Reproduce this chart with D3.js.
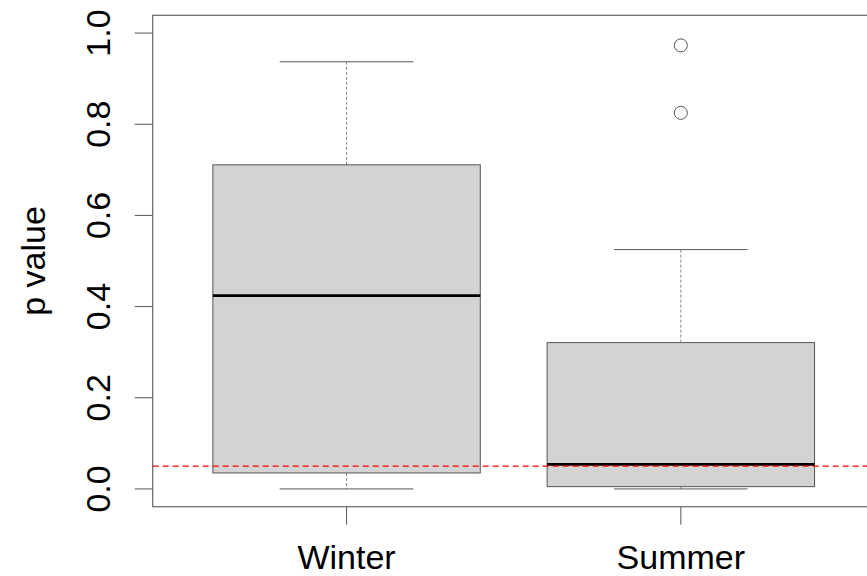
<!DOCTYPE html>
<html>
<head>
<meta charset="utf-8">
<script src="https://cdn.jsdelivr.net/npm/d3@7"></script>
<style>
  body { margin: 0; background: #fff; }
  svg { display: block; }
  text { font-family: "Liberation Sans", Arial, sans-serif; fill: #000; }
</style>
</head>
<body>
<div id="chart"></div>
<script>
// seasons and their box statistics
const seasons = ["Winter", "Summer"];
const whiskerLow = [0.0, 0.0];
const q1 = [0.035, 0.005];
const median = [0.424, 0.054];
const q3 = [0.711, 0.321];
const whiskerHigh = [0.937, 0.525];
const outliers = [[], [0.973, 0.825]];
const yTicks = [0.0, 0.2, 0.4, 0.6, 0.8, 1.0];
const cutoff = 0.05;

const width = 867, height = 576;
const plot = {left: 152.7, right: 874.7, top: 15.3, bottom: 506.7};

const svg = d3.select("#chart").append("svg")
  .attr("width", width).attr("height", height);

// R style scales, 4% padding on each side
const x = d3.scaleLinear().domain([0.42, 2.58]).range([plot.left, plot.right]);
const y = d3.scaleLinear().domain([-0.039, 1.039]).range([plot.bottom, plot.top]);

const boxes = seasons.map((s, i) => ({
  name: s, pos: i + 1,
  lo: whiskerLow[i], q1: q1[i], med: median[i], q3: q3[i], hi: whiskerHigh[i],
  out: outliers[i]
}));

const g = svg.append("g");
const bw = 0.4, cw = 0.2;

// whiskers (dashed)
g.selectAll(".whisk").data(boxes).join("g").each(function(d){
  const sel = d3.select(this);
  sel.append("line")
    .attr("x1", x(d.pos)).attr("x2", x(d.pos))
    .attr("y1", y(d.q3)).attr("y2", y(d.hi))
    .attr("stroke", "#888").attr("stroke-width", 1).attr("stroke-dasharray", "3,2");
  sel.append("line")
    .attr("x1", x(d.pos)).attr("x2", x(d.pos))
    .attr("y1", y(d.q1)).attr("y2", y(d.lo))
    .attr("stroke", "#888").attr("stroke-width", 1).attr("stroke-dasharray", "3,2");
  [d.hi, d.lo].forEach(v => {
    sel.append("line")
      .attr("x1", x(d.pos - cw)).attr("x2", x(d.pos + cw))
      .attr("y1", y(v)).attr("y2", y(v))
      .attr("stroke", "#555").attr("stroke-width", 1);
  });
});

// boxes
g.selectAll(".box").data(boxes).join("rect")
  .attr("x", d => x(d.pos - bw)).attr("width", d => x(d.pos + bw) - x(d.pos - bw))
  .attr("y", d => y(d.q3)).attr("height", d => y(d.q1) - y(d.q3))
  .attr("fill", "#d3d3d3").attr("stroke", "#555").attr("stroke-width", 1);

// medians
g.selectAll(".med").data(boxes).join("line")
  .attr("x1", d => x(d.pos - bw)).attr("x2", d => x(d.pos + bw))
  .attr("y1", d => y(d.med)).attr("y2", d => y(d.med))
  .attr("stroke", "#000").attr("stroke-width", 2.8);

// outliers
g.selectAll(".out").data(boxes.flatMap(d => d.out.map(v => ({pos: d.pos, v}))))
  .join("circle")
  .attr("cx", d => x(d.pos)).attr("cy", d => y(d.v)).attr("r", 6.5)
  .attr("fill", "none").attr("stroke", "#555").attr("stroke-width", 1);

// frame
svg.append("rect")
  .attr("x", plot.left).attr("y", plot.top)
  .attr("width", plot.right - plot.left).attr("height", plot.bottom - plot.top)
  .attr("fill", "none").attr("stroke", "#666").attr("stroke-width", 1.2);

// red cutoff line
svg.append("line")
  .attr("x1", plot.left).attr("x2", width)
  .attr("y1", y(cutoff)).attr("y2", y(cutoff))
  .attr("stroke", "#ff0000").attr("stroke-width", 1.2).attr("stroke-dasharray", "6,4");

// y axis
const yAxis = svg.append("g");
yAxis.selectAll("line").data(yTicks).join("line")
  .attr("x1", plot.left - 18).attr("x2", plot.left)
  .attr("y1", d => y(d)).attr("y2", d => y(d))
  .attr("stroke", "#555").attr("stroke-width", 1);
yAxis.selectAll("text").data(yTicks).join("text")
  .attr("transform", d => `translate(110,${y(d)}) rotate(-90)`)
  .attr("text-anchor", "middle")
  .style("font-size", "34px")
  .text(d => d3.format(".1f")(d));

// x axis
const xAxis = svg.append("g");
xAxis.selectAll("line").data(boxes).join("line")
  .attr("x1", d => x(d.pos)).attr("x2", d => x(d.pos))
  .attr("y1", plot.bottom).attr("y2", plot.bottom + 18)
  .attr("stroke", "#555").attr("stroke-width", 1);
xAxis.selectAll("text").data(boxes).join("text")
  .attr("x", d => x(d.pos)).attr("y", 569)
  .attr("text-anchor", "middle")
  .style("font-size", "34px")
  .text(d => d.name);

// y label
svg.append("text")
  .attr("transform", `translate(45,${(plot.top + plot.bottom) / 2}) rotate(-90)`)
  .attr("text-anchor", "middle")
  .style("font-size", "34px")
  .text("p value");
</script>
</body>
</html>
